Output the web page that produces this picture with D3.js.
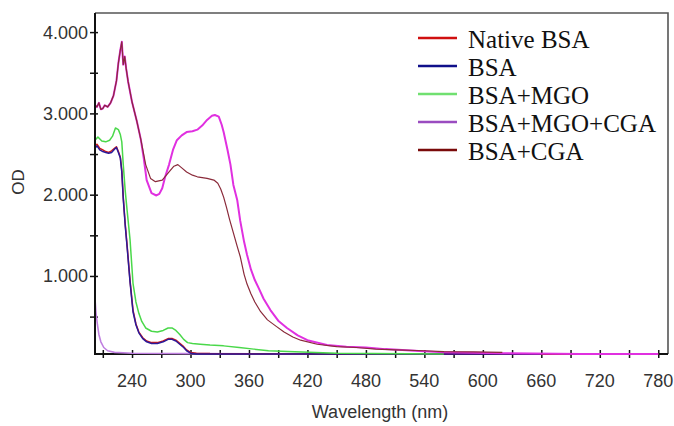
<!DOCTYPE html>
<html lang="en">
<head>
    <meta charset="UTF-8">
    <title>OD spectra</title>
    <script src="https://d3js.org/d3.v7.min.js"></script>
    <style>
        body { margin: 0; background: #fff; }
        svg text { font-family: "Liberation Sans", Arial, sans-serif; fill: #333; }
        .legend text { font-family: "Liberation Serif", "Times New Roman", serif; fill: #111; }
    </style>
</head>
<body>
<div id="chart"></div>
<script type="text/javascript">

// series names as in the legend
var seriesNames = ["Native BSA", "BSA", "BSA+MGO", "BSA+MGO+CGA", "BSA+CGA"];

// Native BSA
var wlNative = [202, 204, 207, 210, 213, 216, 219, 222, 224, 226, 228, 229.5, 231, 233, 235, 238, 241, 244, 247, 251, 255, 260, 266, 272, 277, 281, 285, 289, 293, 296, 300, 306, 320, 450, 780];
var odNative = [2.60, 2.62, 2.57, 2.55, 2.53, 2.52, 2.54, 2.57, 2.59, 2.53, 2.46, 2.30, 1.97, 1.64, 1.37, 0.94, 0.58, 0.41, 0.31, 0.24, 0.20, 0.18, 0.18, 0.20, 0.23, 0.23, 0.21, 0.17, 0.13, 0.09, 0.06, 0.05, 0.045, 0.04, 0.04];

// BSA
var wlBSA = [202, 204, 207, 210, 213, 216, 219, 222, 224, 226, 228, 229.5, 231, 233, 235, 238, 241, 244, 247, 251, 255, 260, 266, 272, 277, 281, 285, 289, 293, 296, 300, 306, 330, 450, 660];
var odBSA = [2.57, 2.60, 2.55, 2.53, 2.52, 2.51, 2.52, 2.56, 2.58, 2.52, 2.45, 2.28, 1.95, 1.62, 1.35, 0.92, 0.56, 0.40, 0.30, 0.23, 0.19, 0.17, 0.17, 0.19, 0.22, 0.22, 0.20, 0.16, 0.12, 0.08, 0.05, 0.04, 0.04, 0.04, 0.04];

// BSA+MGO
var wlMGO = [202, 205, 209, 213, 217, 220, 223, 226, 228, 229.5, 231, 233, 235, 238, 241, 244, 247, 250, 254, 260, 266, 272, 277, 281, 285, 289, 293, 297, 302, 310, 320, 334, 350, 365, 380, 400, 450, 560];
var odMGO = [2.67, 2.71, 2.66, 2.65, 2.67, 2.72, 2.82, 2.80, 2.74, 2.65, 2.37, 2.05, 1.80, 1.44, 0.91, 0.68, 0.54, 0.44, 0.36, 0.32, 0.31, 0.33, 0.36, 0.36, 0.33, 0.28, 0.22, 0.18, 0.17, 0.16, 0.15, 0.14, 0.12, 0.10, 0.08, 0.07, 0.05, 0.04];

// BSA+MGO+CGA
var wlMC = [202, 204, 206, 208, 210, 212, 215, 218, 221, 224, 226, 228, 229.5, 231, 232.5, 234, 236, 240, 245, 249, 252, 255, 260, 265, 268, 271, 274, 278, 282, 286, 291, 296, 302, 307, 312, 317, 322, 325, 329, 332, 334, 338, 341, 344, 348, 351, 355, 358, 362, 366, 370, 375, 382, 390, 399, 410, 420, 440, 460, 480, 500, 530, 560, 620, 700, 780];
var odMC = [3.10, 3.08, 3.13, 3.05, 3.06, 3.10, 3.08, 3.13, 3.22, 3.40, 3.62, 3.78, 3.88, 3.60, 3.70, 3.55, 3.39, 3.14, 2.90, 2.68, 2.45, 2.18, 2.02, 1.99, 2.01, 2.08, 2.22, 2.37, 2.55, 2.67, 2.73, 2.77, 2.78, 2.80, 2.85, 2.92, 2.97, 2.98, 2.96, 2.86, 2.77, 2.55, 2.37, 2.12, 1.93, 1.68, 1.42, 1.26, 1.08, 0.95, 0.85, 0.72, 0.58, 0.45, 0.36, 0.27, 0.21, 0.15, 0.13, 0.12, 0.10, 0.08, 0.06, 0.05, 0.04, 0.04];

// BSA+CGA
var wlCGA = [202, 204, 206, 208, 210, 212, 215, 218, 221, 224, 226, 228, 229.5, 231, 232.5, 234, 236, 240, 245, 249, 254, 259, 264, 271, 278, 283, 287, 291, 296, 302, 307, 317, 324, 328, 331, 334, 337, 340, 344, 348, 351, 355, 358, 362, 366, 372, 379, 388, 396, 405, 413, 430, 450, 470, 490, 510, 540, 560, 590, 620];
var odCGA = [3.10, 3.08, 3.13, 3.05, 3.06, 3.10, 3.08, 3.13, 3.22, 3.40, 3.62, 3.78, 3.88, 3.60, 3.70, 3.55, 3.39, 3.14, 2.90, 2.68, 2.37, 2.20, 2.16, 2.18, 2.28, 2.35, 2.37, 2.33, 2.28, 2.24, 2.22, 2.20, 2.18, 2.14, 2.07, 1.97, 1.84, 1.70, 1.53, 1.36, 1.24, 1.02, 0.90, 0.78, 0.68, 0.56, 0.46, 0.38, 0.31, 0.25, 0.21, 0.16, 0.13, 0.12, 0.10, 0.09, 0.08, 0.07, 0.065, 0.06];

// blank / baseline trace at the far left (not in legend)
var wlBase = [202, 203, 204.5, 206, 208, 211, 215, 222, 240, 300, 420];
var odBase = [0.72, 0.55, 0.40, 0.28, 0.19, 0.12, 0.08, 0.06, 0.05, 0.045, 0.04];

// ticks
var xTicks = [210, 240, 270, 300, 330, 360, 390, 420, 450, 480, 510, 540, 570, 600, 630, 660, 690, 720, 750, 780];
var xLabels = [240, 300, 360, 420, 480, 540, 600, 660, 720, 780];
var yTicks = [0.5, 1, 1.5, 2, 2.5, 3, 3.5, 4];
var yLabels = [1, 2, 3, 4];

var width = 674, height = 426;
// plot box (don't use "top" as a global name, it's window.top)
var pL = 95, pR = 668, pT = 13, pB = 354;

var x = d3.scaleLinear().domain([202, 790]).range([pL, pR]);
var y = d3.scaleLinear().domain([0.04, 4.235]).range([pB, pT]);

var svg = d3.select("#chart")
    .append("svg")
    .attr("width", width)
    .attr("height", height);

// top + right frame
svg.append("path")
    .attr("d", "M" + pL + "," + pT + "H" + pR + "V" + pB)
    .style("fill", "none")
    .style("stroke", "#555")
    .style("stroke-width", 1.6);

// x ticks cross the axis
var xAxis = d3.axisBottom(x).tickValues(xTicks).tickSize(8).tickFormat("");
var gx = svg.append("g")
    .attr("transform", "translate(0," + (pB - 4) + ")")
    .call(xAxis);
gx.select(".domain").remove();
gx.selectAll("line").style("stroke", "#111").style("stroke-width", 1.5);

var yAxis = d3.axisLeft(y).tickValues(yTicks).tickSize(8).tickFormat("");
var gy = svg.append("g")
    .attr("transform", "translate(" + (pL + 3) + ",0)")
    .call(yAxis);
gy.select(".domain").remove();
gy.selectAll("line").style("stroke", "#111").style("stroke-width", 1.5);

// axis lines
svg.append("line")
    .attr("x1", pL).attr("x2", pL).attr("y1", pT).attr("y2", pB + 1)
    .style("stroke", "#111").style("stroke-width", 2);
svg.append("line")
    .attr("x1", pL - 1).attr("x2", pR).attr("y1", pB).attr("y2", pB)
    .style("stroke", "#111").style("stroke-width", 2);

// tick labels
svg.selectAll(".xlab")
    .data(xLabels)
    .enter()
    .append("text")
    .attr("class", "xlab")
    .attr("x", function(d) { return x(d); })
    .attr("y", 387)
    .attr("text-anchor", "middle")
    .style("font-size", "18px")
    .text(function(d) { return d; });

svg.selectAll(".ylab")
    .data(yLabels)
    .enter()
    .append("text")
    .attr("class", "ylab")
    .attr("x", 88)
    .attr("y", function(d) { return y(d) + 6.5; })
    .attr("text-anchor", "end")
    .style("font-size", "18px")
    .text(function(d) { return d.toFixed(3); });

// axis titles
svg.append("text")
    .attr("x", 380)
    .attr("y", 418)
    .attr("text-anchor", "middle")
    .style("font-size", "18px")
    .text("Wavelength (nm)");

svg.append("text")
    .attr("transform", "translate(24,182) rotate(-90)")
    .attr("text-anchor", "middle")
    .style("font-size", "17px")
    .text("OD");

// lines
svg.append("clipPath")
    .attr("id", "plotclip")
    .append("rect")
    .attr("x", pL + 1)
    .attr("y", pT)
    .attr("width", pR - pL - 1)
    .attr("height", pB - pT + 2);

var line = d3.line()
    .x(function(d) { return x(d[0]); })
    .y(function(d) { return y(d[1]); });

function pairs(wl, od) {
    return wl.map(function(w, i) { return [w, od[i]]; });
}

var traces = [
    { data: pairs(wlBase, odBase), color: "#c080e0", w: 1.6 },
    { data: pairs(wlNative, odNative), color: "#d01818", w: 1.5 },
    { data: pairs(wlBSA, odBSA), color: "#2a1a9a", w: 1.5 },
    { data: pairs(wlMGO, odMGO), color: "#4ad84a", w: 1.5 },
    { data: pairs(wlMC, odMC), color: "#e030e0", w: 2 },
    { data: pairs(wlCGA, odCGA), color: "#8a2a3a", w: 1.2 }
];

svg.append("g")
    .attr("clip-path", "url(#plotclip)")
    .selectAll("path")
    .data(traces)
    .enter()
    .append("path")
    .attr("d", function(d) { return line(d.data); })
    .style("fill", "none")
    .style("stroke", function(d) { return d.color; })
    .style("stroke-width", function(d) { return d.w; })
    .style("stroke-linejoin", "round");

// legend
var legendColors = ["#d01010", "#10108a", "#70e070", "#9a4cc0", "#7a0a0a"];
var legend = svg.append("g").attr("class", "legend");
var items = legend.selectAll("g")
    .data(seriesNames)
    .enter()
    .append("g")
    .attr("transform", function(d, i) { return "translate(0," + (40 + i * 28) + ")"; });

items.append("line")
    .attr("x1", 418).attr("x2", 457)
    .attr("y1", -2).attr("y2", -2)
    .style("stroke", function(d, i) { return legendColors[i]; })
    .style("stroke-width", 2.5);

items.append("text")
    .attr("x", 468)
    .attr("y", 8)
    .style("font-size", "25px")
    .text(function(d) { return d; });

</script>
</body>
</html>
